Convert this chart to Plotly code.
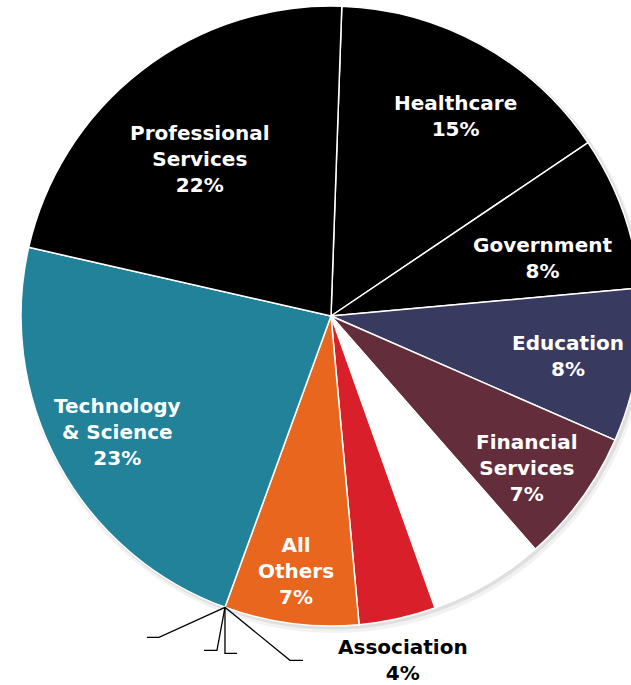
import math
import plotly.graph_objects as go

# Industry mix (percent of total), listed clockwise from 12 o'clock
sectors = ["Healthcare", "Government", "Education", "Financial Services",
           "Other (unlabeled)", "Association", "All Others",
           "Technology & Science", "Professional Services"]
shares = [15, 8, 8, 7, 6, 4, 7, 23, 22]
label_text = ["Healthcare<br>15%", "Government<br>8%", "Education<br>8%",
              "Financial<br>Services<br>7%", "", "Association<br>4%",
              "All<br>Others<br>7%", "Technology<br>& Science<br>23%",
              "Professional<br>Services<br>22%"]
slice_colors = ["#000000", "#000000", "#393a5f", "#642d3b", "#ffffff",
                "#d91f2a", "#e8661e", "#21829a", "#000000"]

# Canvas and pie geometry (pixels)
W, H = 700, 685
CX, CY, R = 331, 316, 310
ROTATION = 2.0

# Label placement: fraction of radius, angle nudge (deg), text colour
label_style = {
    "Healthcare": (0.76, 3.0, "white"),
    "Government": (0.71, 4.4, "white"),
    "Education": (0.775, 0.4, "white"),
    "Financial Services": (0.80, 1.6, "white"),
    "Association": (1.135, 0.6, "black"),
    "All Others": (0.83, 0.4, "white"),
    "Technology & Science": (0.785, 0.1, "white"),
    "Professional Services": (0.66, -2.2, "white"),
}

FONT = "DejaVu Sans"


def px_to_paper(x, y):
    return x / W, 1 - y / H


fig = go.Figure()
fig.add_trace(go.Pie(
    labels=sectors,
    values=shares,
    sort=False,
    direction="clockwise",
    rotation=ROTATION,
    marker=dict(colors=slice_colors, line=dict(color="white", width=1.5)),
    textinfo="none",
    hoverinfo="skip",
    showlegend=False,
    domain=dict(x=[(CX - R) / W, (CX + R) / W],
                y=[1 - (CY + R) / H, 1 - (CY - R) / H]),
))

total = sum(shares)
cum = 0.0
annotations = []
for name, val, txt in zip(sectors, shares, label_text):
    mid = ROTATION + (cum + val / 2) / total * 360
    cum += val
    if name not in label_style:
        continue
    frac, nudge, col = label_style[name]
    a = math.radians(mid + nudge)
    x = CX + frac * R * math.sin(a)
    y = CY - frac * R * math.cos(a)
    px, py = px_to_paper(x, y)
    annotations.append(dict(
        x=px, y=py, xref="paper", yref="paper", text=txt, showarrow=False,
        xanchor="center", yanchor="middle", align="center",
        font=dict(family=FONT, size=20, color=col, weight="bold"),
    ))

# Leader lines fanning out from the boundary after "All Others"
anchor_share = sum(shares[:sectors.index("All Others") + 1])
ang = math.radians(ROTATION + anchor_share / total * 360)
ax = CX + R * math.sin(ang)
ay = CY - R * math.cos(ang)
leaders = [((-66, 30), (-78, 30)), ((-8, 43), (-21, 43)),
           ((0, 46), (12, 46)), ((65, 53), (78, 53))]
shapes = []

# soft drop shadow behind the pie
for off, grow, alpha in [((3, 4), 3, 0.05), ((2, 2), 1.5, 0.08)]:
    x0, y0 = px_to_paper(CX - R - grow + off[0], CY + R + grow + off[1])
    x1, y1 = px_to_paper(CX + R + grow + off[0], CY - R - grow + off[1])
    shapes.append(dict(type="circle", xref="paper", yref="paper",
                       x0=x0, y0=y0, x1=x1, y1=y1, layer="below",
                       fillcolor=f"rgba(0,0,0,{alpha})", line=dict(width=0)))

for (b, e) in leaders:
    pts = [(ax, ay), (ax + b[0], ay + b[1]), (ax + e[0], ay + e[1])]
    path = "M " + " L ".join(
        "{:.5f},{:.5f}".format(*px_to_paper(x, y)) for x, y in pts)
    shapes.append(dict(type="path", xref="paper", yref="paper", path=path,
                       line=dict(color="black", width=1.3)))

fig.update_layout(
    width=W, height=H,
    margin=dict(l=0, r=0, t=0, b=0),
    paper_bgcolor="white", plot_bgcolor="white",
    annotations=annotations,
    shapes=shapes,
)

fig.write_html(
    "out.html",
    post_script="document.body.style.margin='0';"
                "document.body.style.overflow='hidden';"
                "document.documentElement.style.overflow='hidden';",
)
